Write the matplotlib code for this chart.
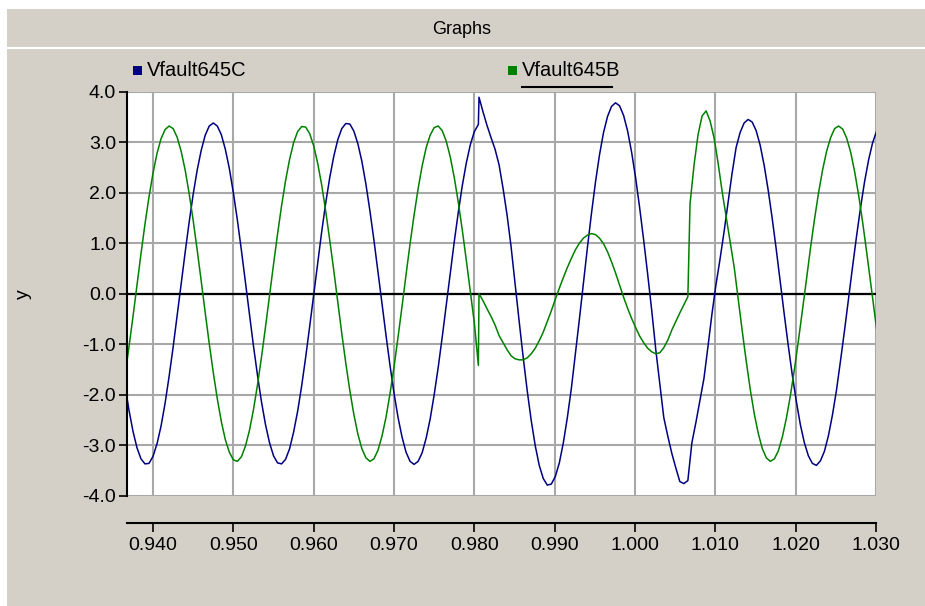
import matplotlib
matplotlib.use('Agg')
import matplotlib.pyplot as plt
import numpy as np
from matplotlib.patches import Rectangle
from matplotlib.lines import Line2D

plt.rcParams['font.family'] = ['Liberation Sans', 'DejaVu Sans']
plt.rcParams['axes.unicode_minus'] = False

# sample step of the recorded channels (s)
DT = 0.0005

# Vfault645C, before the fault
C_PRE_T0 = 0.9365
C_PRE = [
    -1.80, -2.30, -2.72, -3.05, -3.27, -3.37, -3.36, -3.22, -2.97, -2.62,
    -2.17, -1.64, -1.06, -0.44, 0.19, 0.82, 1.42, 1.97, 2.45, 2.84,
    3.14, 3.32, 3.38, 3.32, 3.15, 2.86, 2.48, 2.00, 1.46, 0.86,
    0.23, -0.41, -1.03, -1.61, -2.14, -2.59, -2.95, -3.21, -3.35, -3.37,
    -3.28, -3.07, -2.74, -2.33, -1.83, -1.26, -0.65, -0.02, 0.62, 1.23,
    1.80, 2.30, 2.72, 3.05, 3.27, 3.37, 3.36, 3.22, 2.97, 2.62,
    2.17, 1.64, 1.06, 0.44, -0.19, -0.82, -1.42, -1.97, -2.45, -2.84,
    -3.14, -3.32, -3.38, -3.32, -3.15, -2.86, -2.48, -2.00, -1.46, -0.86,
    -0.23, 0.41, 1.03, 1.61, 2.14, 2.59, 2.95, 3.21, 3.35,
]
# Vfault645C, from the fault on
C_POST_T0 = 0.98058
C_POST = [
    3.89, 3.60, 3.33, 3.09, 2.86, 2.55, 2.08, 1.55, 0.92, 0.18,
    -0.55, -1.26, -1.92, -2.51, -3.01, -3.40, -3.66, -3.79, -3.77, -3.62,
    -3.35, -2.95, -2.45, -1.87, -1.19, -0.50, 0.21, 0.92, 1.59, 2.21,
    2.75, 3.19, 3.51, 3.71, 3.78, 3.72, 3.53, 3.22, 2.80, 2.29,
    1.70, 1.06, 0.38, -0.33, -1.10, -1.78, -2.45, -2.82, -3.16, -3.45,
    -3.72, -3.76, -3.70, -2.95, -2.55, -2.12, -1.68, -1.05, -0.40, 0.18,
    0.68, 1.22, 1.80, 2.38, 2.89, 3.19, 3.38, 3.45, 3.40, 3.23,
    2.94, 2.54, 2.05, 1.49, 0.88, 0.23, -0.41, -1.03, -1.61, -2.13,
    -2.59, -2.95, -3.21, -3.36, -3.40, -3.31, -3.12, -2.81, -2.40, -1.91,
    -1.33, -0.73, -0.10, 0.53, 1.14, 1.71, 2.22, 2.65, 2.99, 3.22,
    3.34,
]

# Vfault645B, before the fault (last sample is the dip at inception)
B_PRE_T0 = 0.9365
B_PRE = [
    -1.63, -1.06, -0.46, 0.17, 0.79, 1.38, 1.92, 2.39, 2.78, 3.07,
    3.25, 3.32, 3.27, 3.10, 2.82, 2.45, 1.98, 1.45, 0.86, 0.25,
    -0.38, -0.99, -1.56, -2.08, -2.53, -2.89, -3.14, -3.29, -3.32, -3.23,
    -3.02, -2.71, -2.30, -1.81, -1.26, -0.66, -0.04, 0.58, 1.18, 1.74,
    2.24, 2.66, 2.99, 3.21, 3.31, 3.30, 3.17, 2.93, 2.58, 2.15,
    1.63, 1.06, 0.46, -0.17, -0.79, -1.38, -1.92, -2.39, -2.78, -3.07,
    -3.25, -3.32, -3.27, -3.10, -2.82, -2.45, -1.98, -1.45, -0.86, -0.25,
    0.38, 0.99, 1.56, 2.08, 2.53, 2.89, 3.14, 3.29, 3.32, 3.23,
    3.02, 2.71, 2.30, 1.81, 1.26, 0.66, 0.04, -0.58, -1.42,
]
# Vfault645B, during the fault
B_POST_T0 = 0.98058
B_POST = [
    0.00, -0.14, -0.30, -0.45, -0.62, -0.83, -0.97, -1.11, -1.23, -1.29,
    -1.31, -1.31, -1.27, -1.19, -1.08, -0.93, -0.76, -0.55, -0.34, -0.11,
    0.11, 0.32, 0.52, 0.70, 0.87, 1.00, 1.10, 1.16, 1.19, 1.17,
    1.10, 0.99, 0.83, 0.63, 0.41, 0.17, -0.07, -0.29, -0.49, -0.67,
    -0.84, -0.97, -1.08, -1.15, -1.19, -1.17, -1.07, -0.92, -0.72, -0.55,
    -0.38, -0.22, -0.06,
]
# Vfault645B, after the fault clears
B_CLEAR_T0 = 1.00685
B_CLEAR = [
    1.78, 2.55, 3.15, 3.52, 3.62, 3.42, 3.08, 2.58, 2.02, 1.52,
    1.02, 0.52, -0.11, -0.74, -1.34, -1.90, -2.38, -2.77, -3.07, -3.25,
    -3.32, -3.27, -3.11, -2.83, -2.46, -2.01, -1.49, -0.92, -0.32, 0.29,
    0.91, 1.48, 2.00, 2.45, 2.82, 3.09, 3.27, 3.32, 3.26, 3.08,
    2.80, 2.41, 1.94, 1.40, 0.81, 0.20, -0.42, -1.04,
]

X_TICKS = [0.940, 0.950, 0.960, 0.970, 0.980, 0.990, 1.000, 1.010, 1.020, 1.030]
X_TICK_LABELS = ['0.940', '0.950', '0.960', '0.970', '0.980',
                 '0.990', '1.000', '1.010', '1.020', '1.030']
Y_TICKS = [-4, -3, -2, -1, 0, 1, 2, 3, 4]
Y_TICK_LABELS = ['-4.0', '-3.0', '-2.0', '-1.0', '0.0', '1.0', '2.0', '3.0', '4.0']

NAMES = ['Vfault645C', 'Vfault645B']
COLORS = ['#000080', '#008000']


def join(*segments):
    times, values = [], []
    for t0, vals in segments:
        times.append(t0 + DT * np.arange(len(vals)))
        values.append(np.asarray(vals, dtype=float))
    return np.concatenate(times), np.concatenate(values)


tc, vc = join((C_PRE_T0, C_PRE), (C_POST_T0, C_POST))
tb, vb = join((B_PRE_T0, B_PRE), (B_POST_T0, B_POST), (B_CLEAR_T0, B_CLEAR))

W, H = 925, 606
PT = 0.72  # points per pixel at 100 dpi
BG = '#D4D0C8'
fig = plt.figure(figsize=(W / 100, H / 100), dpi=100, facecolor=BG)

# white frame edges and the line under the title bar
fig.add_artist(Rectangle((0, 1 - 9 / H), 1, 9 / H, transform=fig.transFigure,
                         color='white', lw=0))
fig.add_artist(Rectangle((0, 0), 7 / W, 1, transform=fig.transFigure,
                         color='white', lw=0))
fig.add_artist(Line2D([7 / W, 1], [1 - 48 / H, 1 - 48 / H], transform=fig.transFigure,
                      color='white', lw=1.5))
fig.text(462 / W, 1 - 30 / H, 'Graphs', ha='center', va='center', fontsize=13)

# legend entries
for name, col, x0 in zip(NAMES, COLORS, [133, 508]):
    fig.add_artist(Rectangle((x0 / W, 1 - 75 / H), 9 / W, 9 / H,
                             transform=fig.transFigure, color=col, lw=0))
    fig.text((x0 + 14) / W, 1 - 71 / H, name, ha='left', va='center', fontsize=14.5)
fig.add_artist(Line2D([522 / W, 612 / W], [1 - 87 / H, 1 - 87 / H],
                      transform=fig.transFigure, color='black', lw=1.5))

ax = fig.add_axes([127 / W, (H - 495.7) / H, 749 / W, 404 / H])
ax.set_facecolor('white')
ax.set_axisbelow(True)
ax.grid(True, color='#A8A8A8', lw=1.5)
ax.axhline(0, color='black', lw=1.6, zorder=1.5)

ax.plot(tc, vc, color=COLORS[0], lw=1.1, zorder=2)
ax.plot(tb, vb, color=COLORS[1], lw=1.1, zorder=2)

ax.set_xlim(0.93676, 1.030)
ax.set_ylim(-4, 4)
ax.set_xticks(X_TICKS)
ax.set_xticklabels(X_TICK_LABELS)
ax.set_yticks(Y_TICKS)
ax.set_yticklabels(Y_TICK_LABELS)

for side in ['top', 'right']:
    ax.spines[side].set_visible(False)
ax.spines['left'].set_color('black')
ax.spines['left'].set_linewidth(1.5)
# time axis drawn as a separate ruler below the plot area
ax.spines['bottom'].set_position(('outward', 27 * PT))
ax.spines['bottom'].set_linewidth(1.5)

ax.tick_params(axis='y', direction='out', length=8 * PT, width=1.2, pad=2, labelsize=14)
ax.tick_params(axis='x', direction='out', length=9 * PT, width=1.2, pad=4, labelsize=14)
ax.set_ylabel('y', fontsize=14)
ax.yaxis.set_label_coords(-95 / 749, 0.5)

fig.savefig('out.png', dpi=100, facecolor=BG)
